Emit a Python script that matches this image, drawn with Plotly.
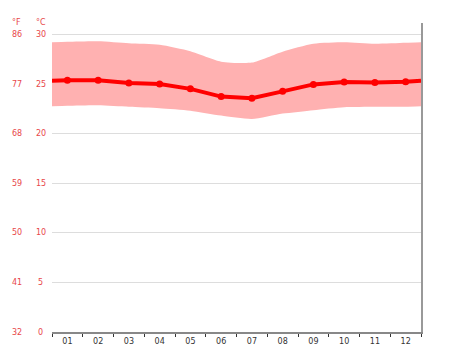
import plotly.graph_objects as go

months = ["01", "02", "03", "04", "05", "06", "07", "08", "09", "10", "11", "12"]
mean_c = [25.43, 25.42, 25.15, 25.03, 24.55, 23.77, 23.6, 24.3, 25.0, 25.25, 25.2, 25.28]
high_c = [29.3, 29.35, 29.15, 29.0, 28.35, 27.3, 27.2, 28.3, 29.1, 29.25, 29.1, 29.2]
low_c = [22.85, 22.9, 22.75, 22.6, 22.35, 21.85, 21.5, 22.05, 22.4, 22.7, 22.75, 22.75]
# values at the year boundary (Dec/Jan), read at the plot edges
edge_mean = 25.38
edge_high = 29.25
edge_low = 22.8

c_ticks = [0, 5, 10, 15, 20, 25, 30]
f_labels = ["32", "41", "50", "59", "68", "77", "86"]

pos = list(range(1, 13))
xs = [0.5] + pos + [12.5]
mean_ext = [edge_mean] + mean_c + [edge_mean]
high_ext = [edge_high] + high_c + [edge_high]
low_ext = [edge_low] + low_c + [edge_low]

fig = go.Figure()
fig.add_trace(go.Scatter(x=xs, y=high_ext, mode="lines", line=dict(width=0, shape="spline", smoothing=0.6),
                         hoverinfo="skip", showlegend=False))
fig.add_trace(go.Scatter(x=xs, y=low_ext, mode="lines", line=dict(width=0, shape="spline", smoothing=0.6),
                         fill="tonexty", fillcolor="#FFB1B1", hoverinfo="skip", showlegend=False))
fig.add_trace(go.Scatter(x=xs, y=mean_ext, mode="lines", line=dict(color="#FF0000", width=4),
                         showlegend=False))
fig.add_trace(go.Scatter(x=pos, y=mean_c, mode="markers", marker=dict(color="#FF0000", size=7),
                         showlegend=False))

label_color = "#E8474A"
font = "DejaVu Sans"
cx, fx = -0.031, -0.0957
ann = []
for c, f in zip(c_ticks, f_labels):
    ann.append(dict(x=cx, xref="paper", y=c, yref="y", text=str(c), showarrow=False,
                    xanchor="center", yanchor="middle", font=dict(family=font, size=8, color=label_color)))
    ann.append(dict(x=fx, xref="paper", y=c, yref="y", text=f, showarrow=False,
                    xanchor="center", yanchor="middle", font=dict(family=font, size=8, color=label_color)))
ann.append(dict(x=cx, xref="paper", y=1.003, yref="paper", text="°C", showarrow=False,
                xanchor="center", yanchor="middle", font=dict(family=font, size=8, color=label_color)))
ann.append(dict(x=fx, xref="paper", y=1.003, yref="paper", text="°F", showarrow=False,
                xanchor="center", yanchor="middle", font=dict(family=font, size=8, color=label_color)))

fig.update_layout(
    width=474, height=355,
    margin=dict(l=44, r=61, t=15, b=31),
    paper_bgcolor="white", plot_bgcolor="white",
    annotations=ann,
    xaxis=dict(range=[0.5, 12.5], tickvals=pos, ticktext=months, ticks="",
               showgrid=False, zeroline=False, showline=True, linecolor="#888888", linewidth=2,
               tickfont=dict(family=font, size=8, color="#333333"),
               minor=dict(tickvals=[i + 0.5 for i in range(0, 13)], ticks="outside", ticklen=3,
                          tickcolor="#333333", showgrid=False)),
    yaxis=dict(range=[0, 31.2], tickvals=c_ticks, showticklabels=False, ticks="",
               showgrid=True, gridcolor="#DDDDDD", gridwidth=1, zeroline=False,
               side="right", showline=True, linecolor="#999999", linewidth=2),
)

fig.write_html("out.html")
